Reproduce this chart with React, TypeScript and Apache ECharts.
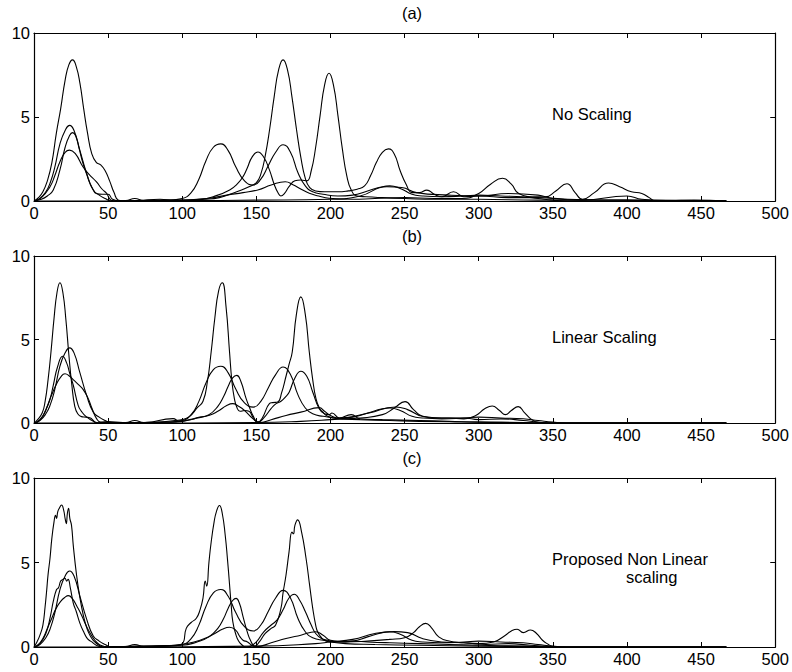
import React, { useEffect, useRef } from "react";
import * as echarts from "echarts";

// ---------- data ----------
const panelTitles = ["(a)", "(b)", "(c)"];
const panelNotes = [["No Scaling"], ["Linear Scaling"], ["Proposed Non Linear", "scaling"]];
const xTickStep = 50;
const xMax = 500;
const yTickStep = 5;
const yMax = 10;

// reference speaker: identical in all three panels
const reference: number[][] = [[0,0],[4,0.15],[8,0.55],[11,1.1],[14,2.0],[17.5,3.4],[21,4.2],[24,4.5],[27,4.2],[31,3.0],[35.5,1.65],[40,0.65],[44,0.35],[48,0.15],[52,0],[62,0.03],[68,0.15],[74,0.03],[90,0.05],[100,0.15],[106,0.5],[111,1.25],[116,2.4],[121,3.2],[126,3.4],[131,3.0],[136,2.05],[142,1.2],[148,0.95],[153,1.3],[158,2.1],[163,2.9],[168,3.35],[173,2.9],[178,1.7],[183,0.9],[188,0.55],[195,0.4],[205,0.3],[215,0.35],[225,0.6],[235,0.85],[240,0.9],[247,0.75],[255,0.4],[262,0.3],[275,0.25],[290,0.3],[300,0.35],[315,0.3],[330,0.25],[340,0.15],[350,0.05],[360,0],[467,0]];

// (a) no scaling
const aTall: number[][] = [[0,0],[3,0.2],[6,0.55],[9,1.2],[12,2.25],[15,4.0],[18,5.5],[21,7.2],[23.5,8.1],[26,8.4],[28.5,8.0],[31,7.0],[33.5,5.5],[36,4.1],[39,2.8],[42,2.3],[45,2.15],[48,1.8],[51,1.2],[54,0.5],[57,0.05],[62,0],[80,0.02],[100,0.03],[115,0.1],[125,0.2],[132,0.4],[140,0.65],[145,0.85],[150,1.1],[153,1.6],[156,2.7],[159,4.3],[162,6.2],[165,7.8],[168,8.4],[171,7.8],[174,6.2],[177,4.3],[180,2.6],[183,1.35],[186,0.8],[190,0.6],[196,0.55],[205,0.55],[212,0.6],[218,0.7],[223,0.9],[227,1.5],[231,2.3],[235,2.9],[239,3.1],[243,2.8],[247,1.8],[251,1.0],[255,0.5],[260,0.5],[265,0.65],[270,0.4],[275,0.25],[283,0.55],[290,0.25],[300,0.3],[320,0.2],[340,0.2],[360,0.1],[400,0.05],[430,0.02],[467,0]];
const aMid: number[][] = [[0,0],[5,0.1],[9,0.3],[13,0.65],[17.5,1.85],[21,3.2],[24,3.9],[26,4.07],[28,3.9],[30.5,3.1],[33,2.25],[35.5,1.6],[37.7,1.05],[40,0.65],[42,0.45],[46,0.4],[50,0.4],[53,0.1],[58,0],[80,0.03],[100,0.05],[112,0.1],[123,0.32],[132,0.66],[137,1.0],[141,1.45],[144,2.0],[147,2.6],[151,2.92],[155,2.6],[158.8,1.85],[162,1.0],[164.5,0.5],[166.5,0.3],[169,0.45],[172,0.85],[176,1.2],[180,1.25],[184,1.2],[187,1.8],[190,3.2],[193,5.1],[196,6.9],[199,7.6],[202,6.9],[205,5.1],[208,3.1],[211,1.5],[214,0.65],[218,0.3],[224,0.25],[235,0.2],[250,0.15],[270,0.1],[300,0.1],[340,0.05],[400,0.05],[467,0]];
const aLow: number[][] = [[0,0],[5,0.2],[10.8,0.85],[14,1.5],[17.5,2.34],[21,2.9],[24,3.03],[28,2.8],[33,2.04],[37,1.6],[42,1.15],[46,0.7],[49,0.45],[52,0.05],[56,0],[70,0.03],[85,0.1],[95,0.05],[110,0.1],[118,0.16],[130,0.35],[141,0.5],[151,0.66],[160,0.95],[169.5,1.15],[175,0.95],[179,0.76],[185.7,0.46],[192,0.3],[199,0.16],[215,0.1],[230,0.15],[250,0.2],[270,0.15],[289,0.15],[300,0.45],[308,1.0],[316,1.35],[322,1.0],[327,0.45],[338,0.25],[345,0.25],[352,0.6],[359.5,1.03],[365,0.5],[370,0.1],[378,0.5],[387.6,1.07],[395,0.85],[403,0.55],[410,0.45],[415,0.2],[419,0],[430,0.02],[445,0.05],[467,0]];
const aFaint: number[][] = [[0,0],[60,0],[100,0.02],[150,0.05],[200,0.1],[220,0.3],[238,0.85],[248,0.8],[258,0.5],[280,0.35],[300,0.3],[320,0.45],[340,0.35],[350,0.15],[370,0.05],[400,0.3],[410,0.1],[430,0.02],[467,0]];

// (b) linear scaling
const bTall: number[][] = [[0,0],[2,0.16],[5.5,0.6],[7.5,1.3],[9.5,2.6],[11.5,4.3],[13.5,6.25],[15.5,7.8],[17.5,8.4],[19.5,7.8],[21.5,6.2],[23.5,4.1],[25.5,2.3],[27.5,1.0],[29.5,0.55],[32,0.38],[35,0.35],[38,0.3],[40,0.15],[42,0],[50,0.08],[60,0.02],[80,0.03],[95,0.15],[100,0.2],[105,0.4],[110,0.9],[114,1.3],[117,2.5],[119.5,4.25],[122,6.3],[124.5,7.9],[127,8.4],[129.5,7.0],[131.9,4.25],[133.5,2.5],[135.2,1.45],[137,0.9],[139,0.7],[142,0.75],[145,0.7],[148,0.3],[151,0.05],[155,0.3],[159.9,0.86],[163.3,1.16],[166.6,1.3],[170,1.6],[172.2,1.86],[176,2.7],[180,3.1],[184,2.8],[188,1.86],[192.4,0.86],[196,0.55],[199,0.5],[201,0.6],[206,0.3],[214,0.5],[220,0.25],[235,0.2],[260,0.15],[280,0.1],[300,0.05],[330,0.03],[345,0],[467,0]];
const bMid: number[][] = [[0,0],[4,0.2],[8,0.8],[11,1.5],[13,2.26],[16,3.4],[19.3,4.0],[22,3.6],[24,3.0],[26.5,2.26],[29.8,1.06],[32,0.7],[35,0.4],[40,0.1],[44,0],[60,0.02],[90,0.05],[100,0.1],[110,0.3],[118,0.5],[124,1.0],[128,1.6],[131,2.2],[134,2.7],[136.8,2.85],[139.5,2.5],[143.1,1.46],[145.5,0.9],[147.6,0.46],[151,0.05],[154,0.3],[158.8,1.16],[161,1.22],[164.4,1.26],[167,1.8],[170,2.8],[172,3.5],[174.2,4.25],[177,6.5],[180,7.55],[183,6.5],[185.7,4.25],[188,2.6],[190.2,1.46],[192.5,0.9],[194.7,0.66],[198,0.4],[205,0.25],[220,0.2],[240,0.15],[260,0.1],[300,0.05],[330,0.02],[345,0],[467,0]];
const bLow: number[][] = [[0,0],[3,0.1],[6,0.4],[9,1.0],[12,1.7],[15,2.3],[18,2.75],[20.9,2.95],[24,2.8],[27,2.55],[30,2.3],[33.2,2.0],[36.6,1.46],[39,0.9],[42.2,0.26],[45,0.05],[55,0],[75,0.03],[93.8,0.26],[98,0.1],[105,0.2],[112,0.35],[118.4,0.46],[124,0.7],[130,1.05],[134,1.16],[138,1.0],[142,0.75],[147.6,0.26],[152,0.03],[160,0.2],[170,0.45],[180,0.65],[192.4,0.92],[196,0.7],[200,0.45],[208,0.25],[220,0.3],[235,0.5],[243,0.9],[250.3,1.28],[256,0.8],[262,0.4],[270,0.3],[280,0.3],[290,0.25],[298,0.45],[304,0.85],[309.1,1.02],[314,0.75],[318,0.5],[322,0.75],[326.6,0.98],[331,0.6],[335,0.25],[338.2,0.08],[342,0],[467,0]];
const bFaint: number[][] = [[0,0],[60,0],[150,0.03],[180,0.1],[200,0.2],[208,0.26],[226,0.6],[244,0.96],[252,0.8],[262,0.4],[275,0.3],[290,0.3],[300,0.2],[315,0.25],[330,0.15],[340,0.05],[350,0],[467,0]];

// (c) proposed non linear scaling
const cTall: number[][] = [[0,0],[2,0.3],[4,0.7],[6,1.3],[7.5,2.4],[8.5,3.3],[9.5,4.3],[10.8,5.25],[12,6.4],[13.5,7.4],[14.5,7.8],[15.2,7.6],[16,8.0],[17,8.2],[18.6,8.4],[20,8.1],[21,7.6],[21.8,7.3],[22.5,7.9],[23.3,8.2],[24.2,7.6],[25.3,7.2],[26.5,6.0],[28.7,4.26],[31,2.9],[33.2,1.9],[35,1.3],[36.6,0.9],[39,0.5],[41,0.3],[44.4,0.08],[47,0],[60,0.02],[80,0.03],[95,0.1],[100,0.2],[102.7,1.1],[106,1.45],[109.5,1.7],[112,2.2],[114,2.9],[115.5,3.9],[116.5,3.6],[118,5.0],[119.5,6.2],[121.5,7.4],[123,8.0],[125.1,8.37],[127,7.9],[129,6.6],[130.5,5.2],[131.9,3.7],[133,2.5],[134.1,1.5],[136.3,0.7],[138,0.35],[140,0.15],[143,0],[146,0.05],[150,0.3],[155,0.9],[160,1.3],[164,1.6],[168,2.2],[172,2.9],[175.6,3.12],[179,2.8],[183,2.1],[187,1.3],[190,0.8],[194,0.5],[198,0.4],[205,0.3],[215,0.35],[225,0.3],[240,0.25],[260,0.2],[280,0.15],[300,0.1],[330,0.05],[350,0],[467,0]];
const cMid: number[][] = [[0,0],[4,0.2],[8,0.8],[11,1.8],[13,2.7],[15.2,3.4],[16.5,3.5],[18,3.9],[19.5,4.0],[20.9,4.07],[22,3.9],[23,4.0],[24.5,3.5],[26.5,2.6],[28.5,2.1],[31,1.4],[33.5,0.9],[36,0.5],[39,0.3],[42,0.1],[46,0],[60,0.03],[100,0.1],[110,0.3],[118,0.6],[124,1.1],[128,1.7],[131,2.3],[134,2.75],[136.3,2.88],[138.5,2.6],[141,1.8],[143.5,1.0],[146,0.4],[149,0.05],[152,0.3],[156,0.8],[160,1.1],[163,1.3],[166.6,2.3],[168,3.2],[170,4.26],[172,5.6],[174,6.8],[175,6.7],[176,7.2],[177.8,7.52],[180.5,6.8],[183.5,5.25],[186,3.6],[188,2.3],[190,1.3],[191.3,0.9],[193.5,0.6],[195.8,0.4],[200,0.3],[210,0.2],[230,0.15],[260,0.1],[300,0.05],[340,0.02],[355,0],[467,0]];
const cLow: number[][] = [[0,0],[3,0.15],[6,0.5],[9,1.1],[12,1.7],[15,2.3],[18,2.7],[21,2.95],[23.1,3.04],[26,2.85],[29,2.4],[32,1.9],[35,1.3],[38,0.8],[41,0.4],[44,0.15],[47,0.05],[50,0],[70,0.05],[90,0.08],[100,0.15],[108,0.3],[115,0.5],[122,0.8],[127,1.05],[131.9,1.17],[136,1.0],[139,0.6],[141,0.4],[144,0.3],[147,0.1],[150,0.02],[160,0.25],[170,0.5],[180,0.7],[190,0.9],[195,0.7],[200,0.4],[210,0.3],[225,0.35],[240,0.45],[250,0.55],[256,0.85],[260,1.2],[264.2,1.4],[268,1.15],[273,0.6],[280,0.35],[290,0.25],[300,0.2],[310,0.3],[318,0.7],[322,0.95],[325.9,1.05],[330,0.85],[334.9,1.01],[339,0.8],[343,0.4],[347,0.15],[349.4,0.05],[353,0],[467,0]];
const cFaint: number[][] = [[0,0],[50,0],[150,0.05],[190,0.2],[200,0.3],[215,0.45],[230,0.8],[242.9,0.91],[252,0.85],[262,0.5],[275,0.3],[290,0.25],[305,0.15],[320,0.2],[335,0.1],[345,0.05],[352,0],[467,0]];

const panelCurves = [
  [aTall, reference, aMid, aLow, aFaint],
  [bTall, reference, bMid, bLow, bFaint],
  [cTall, reference, cMid, cLow, cFaint],
];

// ---------- layout ----------
const FONT = "Liberation Sans, Arial, Helvetica, sans-serif";
const gridTops = [33, 256, 478];
const gridHeights = [168, 167, 169];
const titleY = [13, 236, 458];
const noteY = [[114], [336.5], [559, 577]];
const noteX = [[552], [552], [552, 626]];

export default function App() {
  const ref = useRef<HTMLDivElement>(null);
  useEffect(() => {
    if (!ref.current) return;
    const chart = echarts.init(ref.current, undefined, { renderer: "svg" });
    const grids: any[] = [];
    const xAxes: any[] = [];
    const yAxes: any[] = [];
    const series: any[] = [];
    const graphics: any[] = [];
    const axisLine = { show: true, onZero: false, lineStyle: { color: "#000", width: 1.2 } };
    const tick = { show: true, inside: true, length: 5, lineStyle: { color: "#000", width: 1 } };
    for (let p = 0; p < 3; p++) {
      grids.push({ left: 34, right: 15, top: gridTops[p], height: gridHeights[p], show: false });
      xAxes.push({
        type: "value", gridIndex: p, position: "bottom", min: 0, max: xMax, interval: xTickStep,
        axisLine, axisTick: tick, splitLine: { show: false },
        axisLabel: { color: "#000", fontSize: 16.5, fontFamily: FONT, margin: 3, showMinLabel: true, showMaxLabel: true },
      });
      xAxes.push({
        type: "value", gridIndex: p, position: "top", min: 0, max: xMax, interval: xTickStep,
        axisLine, axisTick: tick, splitLine: { show: false }, axisLabel: { show: false },
      });
      yAxes.push({
        type: "value", gridIndex: p, position: "left", min: 0, max: yMax, interval: yTickStep,
        axisLine, axisTick: tick, splitLine: { show: false },
        axisLabel: { color: "#000", fontSize: 16.5, fontFamily: FONT, margin: 4, showMinLabel: true, showMaxLabel: true },
      });
      yAxes.push({
        type: "value", gridIndex: p, position: "right", min: 0, max: yMax, interval: yTickStep,
        axisLine, axisTick: tick, splitLine: { show: false }, axisLabel: { show: false },
      });
      panelCurves[p].forEach((curve, i) => {
        series.push({
          type: "line", name: `p${p}s${i}`, xAxisIndex: 2 * p, yAxisIndex: 2 * p,
          data: curve, showSymbol: false, symbol: "none", smooth: 0.5,
          lineStyle: { color: "#000", width: 1.1 }, silent: true, clip: true,
        });
      });
      graphics.push({
        type: "text", x: 412, y: titleY[p],
        style: { text: panelTitles[p], font: `16.5px ${FONT}`, fill: "#000", align: "center", verticalAlign: "middle" },
      });
      panelNotes[p].forEach((t, k) => {
        graphics.push({
          type: "text", x: noteX[p][k], y: noteY[p][k],
          style: { text: t, font: `16.5px ${FONT}`, fill: "#000", align: "left", verticalAlign: "middle" },
        });
      });
    }
    chart.setOption({
      animation: false,
      backgroundColor: "#fff",
      grid: grids,
      xAxis: xAxes,
      yAxis: yAxes,
      series,
      graphic: graphics,
    });
    return () => chart.dispose();
  }, []);
  return (
    <div
      ref={ref}
      style={{ position: "fixed", left: 0, top: 0, width: 792, height: 672, background: "#fff" }}
    />
  );
}
